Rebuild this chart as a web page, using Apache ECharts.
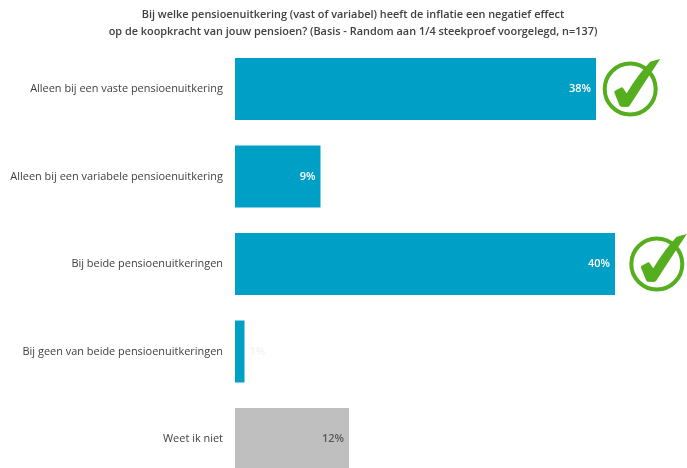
<!DOCTYPE html>
<html>
<head>
<meta charset="utf-8">
<style>html,body{margin:0;padding:0;background:#fff}#chart{width:687px;height:468px}</style>
<script src="https://cdn.jsdelivr.net/npm/echarts@6/dist/echarts.min.js"></script>
</head>
<body>
<div id="chart"></div>
<script>
const titleLines = [
  'Bij welke pensioenuitkering (vast of variabel) heeft de inflatie een negatief effect',
  'op de koopkracht van jouw pensioen? (Basis - Random aan 1/4 steekproef voorgelegd, n=137)'
];
const categories = [
  'Alleen bij een vaste pensioenuitkering',
  'Alleen bij een variabele pensioenuitkering',
  'Bij beide pensioenuitkeringen',
  'Bij geen van beide pensioenuitkeringen',
  'Weet ik niet'
];
const values = [38, 9, 40, 1, 12];
const barColors = ['#009FC6', '#009FC6', '#009FC6', '#009FC6', '#BFBFBF'];
const labelColors = ['#FFFFFF', '#FFFFFF', '#FFFFFF', '#F2F2F2', '#595959'];
// Correct answers get a check badge beside the bar: [axis position, category index]
const badges = [[41.6, 0], [44.4, 2]];

const green = '#55AE1E';
const checkPath = 'path://M0,97 Q0,94 4,92 L20,83 Q24,81 26,85 L36,100 Q68,46 104,8 Q120,3 133,0 Q88,68 44,137 Q41,140 36,140 L20,139 Q16,138 15,134 Z';
const fontFamily = '"Open Sans", "Noto Sans", sans-serif';

const chart = echarts.init(document.getElementById('chart'));
chart.setOption({
  animation: false,
  backgroundColor: '#fff',
  title: {
    text: titleLines.join('\n'),
    left: 348,
    top: 1,
    textAlign: 'center',
    textStyle: { fontFamily, fontSize: 10.9, fontWeight: 600, color: '#404040', lineHeight: 17.5 }
  },
  grid: { left: 235, top: 45.25, width: 456, height: 437.5, outerBoundsMode: 'none' },
  xAxis: { type: 'value', min: 0, max: 48, show: false },
  yAxis: {
    type: 'category',
    inverse: true,
    data: categories,
    axisLine: { show: false },
    axisTick: { show: false },
    splitLine: { show: false },
    axisLabel: { margin: 12, fontFamily, fontSize: 10.95, color: '#404040' }
  },
  series: [
    {
      type: 'bar',
      barWidth: 62,
      data: values.map((v, i) => ({
        value: v,
        itemStyle: { color: barColors[i] },
        label: {
          color: labelColors[i],
          position: v < 3 ? 'right' : 'insideRight'
        }
      })),
      label: {
        show: true,
        distance: 5,
        fontFamily,
        fontSize: 11,
        fontWeight: 600,
        formatter: p => p.value + '%'
      }
    },
    {
      type: 'scatter',
      symbol: 'circle',
      symbolSize: 51,
      data: badges,
      silent: true,
      z: 3,
      itemStyle: { color: 'rgba(255,255,255,0)', borderColor: green, borderWidth: 4, opacity: 1 }
    },
    {
      type: 'scatter',
      symbol: checkPath,
      symbolSize: [46, 48],
      symbolOffset: [7, -6],
      symbolKeepAspect: false,
      data: badges,
      silent: true,
      z: 4,
      itemStyle: { color: green, opacity: 1 }
    }
  ]
});
</script>
</body>
</html>
